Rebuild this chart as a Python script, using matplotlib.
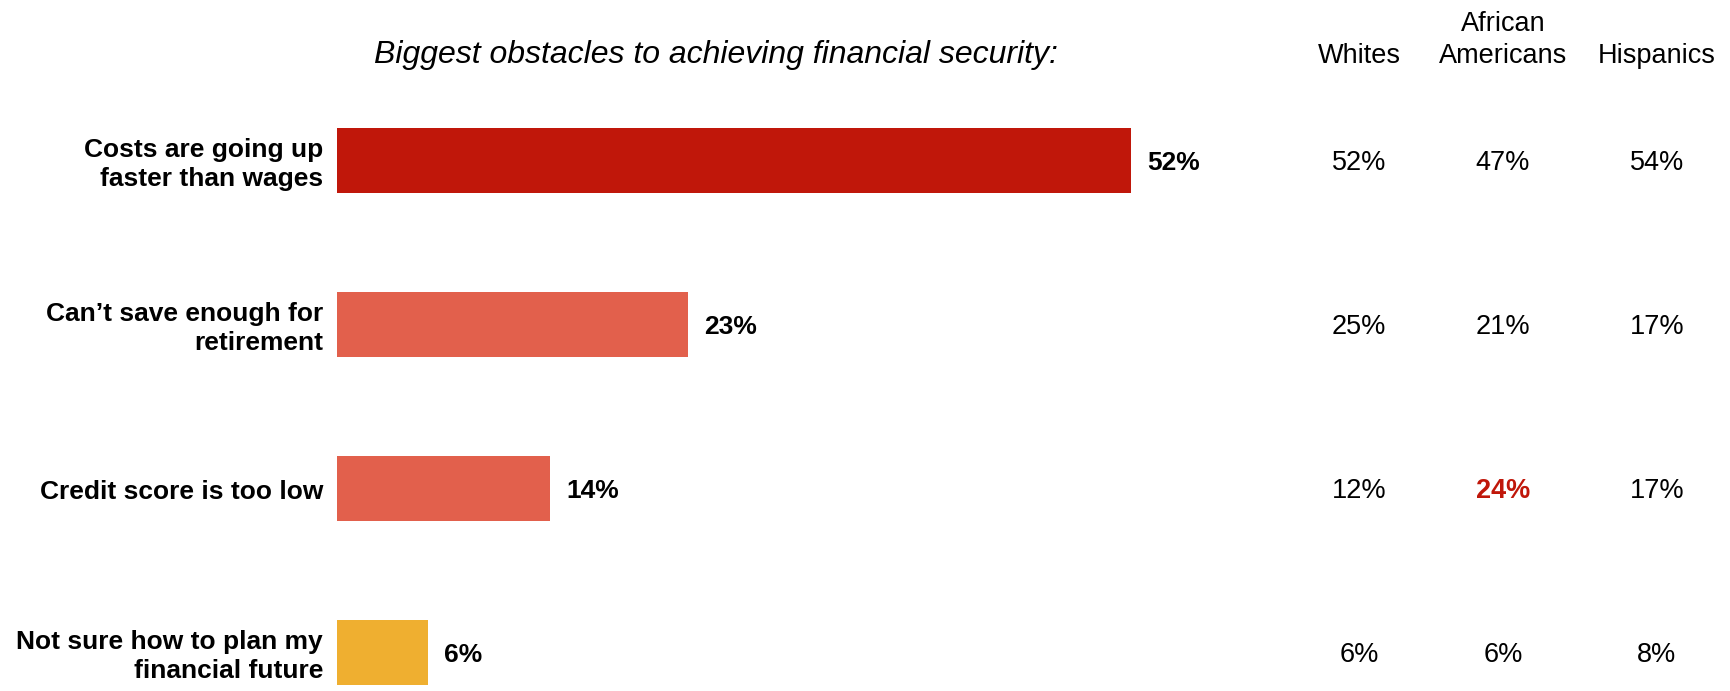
import matplotlib.pyplot as plt
from matplotlib.transforms import blended_transform_factory

plt.rcParams['font.family'] = ['Liberation Sans', 'DejaVu Sans']

# survey answers (share of all respondents, %)
obstacles = [
    "Costs are going up\nfaster than wages",
    "Can\u2019t save enough for\nretirement",
    "Credit score is too low",
    "Not sure how to plan my\nfinancial future",
]
totals = [52, 23, 14, 6]
bar_colors = ["#C0170A", "#E2604C", "#E2604C", "#EFAF30"]

# breakdown by group
groups = ["Whites", "African\nAmericans", "Hispanics"]
whites = [52, 25, 12, 6]
african_americans = [47, 21, 24, 6]
hispanics = [54, 17, 17, 8]
highlight = (2, 1)  # (row, column) shown in red

W, H = 1730, 691
fig = plt.figure(figsize=(W / 100, H / 100), dpi=100)

px_per_pct = 15.28
left_px = 336.5
ax = fig.add_axes([left_px / W, 0, 1 - left_px / W, 1])
ax.set_xlim(0, (W - left_px) / px_per_pct)
row_px = 164.0
top_off = 160.5 / row_px
ax.set_ylim(-top_off + H / row_px, -top_off)
ax.axis('off')

ypos = list(range(len(obstacles)))
ax.barh(ypos, totals, height=65 / row_px, color=bar_colors)

line_gap = 29      # px between label baselines
half_cap = 10.0    # px from row centre down to a number's baseline
label_drop = 10.8  # same for the category labels

for y, v, lab in zip(ypos, totals, obstacles):
    ax.annotate(f"{v}%", (v, y), xytext=(16, -half_cap), textcoords='offset pixels',
                ha='left', va='baseline', fontsize=19, fontweight='bold', color='black')
    lines = lab.split("\n")
    n = len(lines)
    for k, line in enumerate(lines):
        dy = label_drop + (k - (n - 1) / 2) * line_gap
        ax.annotate(line, (0, y), xytext=(-13.5, -dy), textcoords='offset pixels',
                    ha='right', va='baseline', fontsize=19, fontweight='bold',
                    color='black')

# group columns
trans = blended_transform_factory(fig.transFigure, ax.transData)
col_x = [1359 / W, 1503 / W, 1657 / W]
for ci, (cx, vals) in enumerate(zip(col_x, [whites, african_americans, hispanics])):
    for ri, v in enumerate(vals):
        hl = (ri, ci) == highlight
        ax.annotate(f"{v}%", (cx, ri), xycoords=trans, xytext=(0, -half_cap),
                    textcoords='offset pixels', ha='center', va='baseline',
                    fontsize=19.5, color="#C0170A" if hl else 'black',
                    fontweight='bold' if hl else 'normal')

for cx, g in zip(col_x, groups):
    lines = g.split("\n")
    for k, line in enumerate(reversed(lines)):
        fig.text(cx, 1 - (63 - 32 * k) / H, line, ha='center', va='baseline',
                 fontsize=19.5, color='black')

fig.text(716 / W, 1 - 63 / H, "Biggest obstacles to achieving financial security:",
         ha='center', va='baseline', fontsize=23, style='italic', color='black')

fig.savefig("out.png", dpi=100, facecolor='white')
